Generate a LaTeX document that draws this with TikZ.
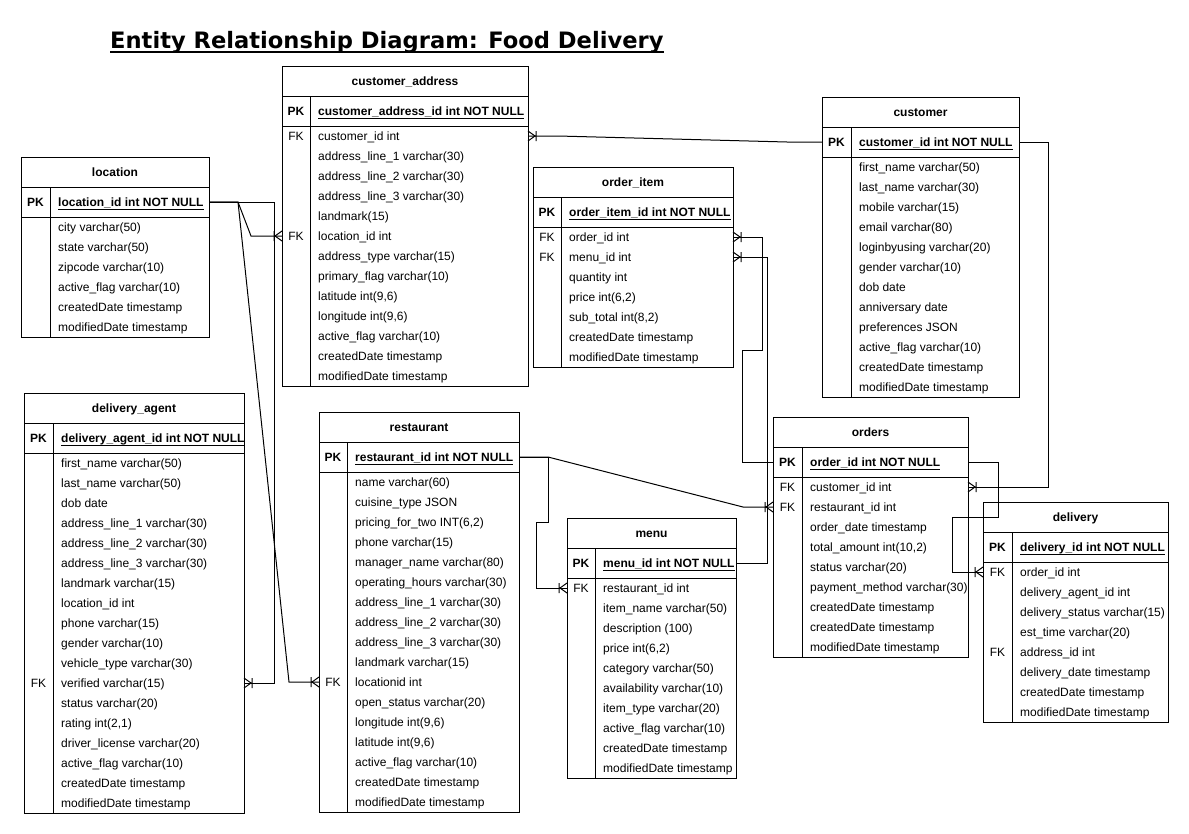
\documentclass[tikz,border=0pt]{standalone}
\usepackage{fontspec}
\setmainfont{Liberation Sans}
\newfontfamily\titlefont{DejaVu Sans}
\usetikzlibrary{positioning}

% crow's foot (mandatory many)
\pgfarrowsdeclare{crowbar}{crowbar}
{\pgfarrowsleftextend{-9pt}\pgfarrowsrightextend{0pt}}
{%
  \pgfsetdash{}{0pt}%
  \pgfpathmoveto{\pgfpoint{0pt}{5pt}}%
  \pgfpathlineto{\pgfpoint{-7pt}{0pt}}%
  \pgfpathlineto{\pgfpoint{0pt}{-5pt}}%
  \pgfpathmoveto{\pgfpoint{-8pt}{5pt}}%
  \pgfpathlineto{\pgfpoint{-8pt}{-5pt}}%
  \pgfusepathqstroke
}

% #1 name, #2 x, #3 y, #4 width, #5 key width, #6 rows, #7 title, #8 pk, #9 fields
\newcommand{\erTable}[9]{%
  \draw [tablebox] (#2,#3) rectangle (#2+#4,#3+60+20*#6);
  \draw [tablebox] (#2,#3+30) -- (#2+#4,#3+30);
  \draw [tablebox] (#2,#3+60) -- (#2+#4,#3+60);
  \draw [tablebox] (#2+#5,#3+30) -- (#2+#5,#3+60+20*#6);
  \node [tabletitle] (#1) at (#2+#4/2,#3+15) {#7};
  \node [rowbox, minimum width=#4pt, minimum height=30pt] (#1-pk) at (#2+#4/2,#3+45) {};
  \node [keytext, font=\bfseries] at (#2+#5/2,#3+45) {PK};
  \node [fieldtext, font=\bfseries] (#1-pkt) at (#2+#5+8,#3+45) {#8};
  \draw [line width=1pt] ([yshift=-3pt]#1-pkt.base west) -- ([yshift=-3pt]#1-pkt.base east);
  \foreach \k/\t [count=\i] in {#9} {
    \node [rowbox, minimum width=#4pt] (#1-\i) at (#2+#4/2,#3+50+20*\i) {};
    \node [keytext] at (#2+#5/2,#3+50+20*\i) {\k};
    \node [fieldtext] at (#2+#5+8,#3+50+20*\i) {\t};
  }
}

\begin{document}
\fontsize{12}{14}\selectfont
\begin{tikzpicture}[x=1pt, y=-1pt]
\tikzset{
  tablebox/.style={draw=black, line width=1pt},
  rowbox/.style={draw=none, minimum height=20pt, inner sep=0pt, outer sep=0pt},
  tabletitle/.style={inner sep=0pt, font=\bfseries, text height=8.5pt, text depth=0pt},
  keytext/.style={inner sep=0pt, text height=8.5pt, text depth=0pt},
  fieldtext/.style={anchor=west, inner sep=0pt, text height=8.5pt, text depth=0pt},
  rel/.style={draw=black, line width=1pt, -crowbar},
}

\fill [white] (0,0) rectangle (1189,833);
\useasboundingbox (0,0) rectangle (1189,833);

\node [anchor=base west, inner sep=0pt, font=\titlefont\bfseries\fontsize{22.6}{26}\selectfont] (title) at (110,48) {Entity Relationship Diagram: Food Delivery};
\draw [line width=2pt] ([yshift=-4pt]title.base west) -- ([yshift=-4pt]title.base east);

\erTable{ca}{282}{66}{246}{28}{13}{customer\_address}{customer\_address\_id int NOT NULL}
  {FK/customer\_id int,/address\_line\_1 varchar(30),/address\_line\_2 varchar(30),/address\_line\_3 varchar(30),/landmark(15),FK/location\_id int,/address\_type varchar(15),/primary\_flag varchar(10),/{latitude int(9,6)},/{longitude int(9,6)},/active\_flag varchar(10),/createdDate timestamp,/modifiedDate timestamp}

\erTable{loc}{21}{157}{188}{29}{6}{location}{location\_id int NOT NULL}
  {/city varchar(50),/state varchar(50),/zipcode varchar(10),/active\_flag varchar(10),/createdDate timestamp,/modifiedDate timestamp}

\erTable{cust}{822}{97}{197}{29}{12}{customer}{customer\_id int NOT NULL}
  {/first\_name varchar(50),/last\_name varchar(30),/mobile varchar(15),/email varchar(80),/loginbyusing varchar(20),/gender varchar(10),/dob date,/anniversary date,/preferences JSON,/active\_flag varchar(10),/createdDate timestamp,/modifiedDate timestamp}

\erTable{oi}{533}{167}{200}{28}{7}{order\_item}{order\_item\_id int NOT NULL}
  {FK/order\_id int,FK/menu\_id int,/quantity int,/{price int(6,2)},/{sub\_total int(8,2)},/createdDate timestamp,/modifiedDate timestamp}

\erTable{da}{24}{393}{220}{29}{18}{delivery\_agent}{delivery\_agent\_id int NOT NULL}
  {/first\_name varchar(50),/last\_name varchar(50),/dob date,/address\_line\_1 varchar(30),/address\_line\_2 varchar(30),/address\_line\_3 varchar(30),/landmark varchar(15),/location\_id int,/phone varchar(15),/gender varchar(10),/vehicle\_type varchar(30),FK/verified varchar(15),/status varchar(20),/{rating int(2,1)},/driver\_license varchar(20),/active\_flag varchar(10),/createdDate timestamp,/modifiedDate timestamp}

\erTable{rest}{319}{412}{200}{28}{17}{restaurant}{restaurant\_id int NOT NULL}
  {/name varchar(60),/cuisine\_type JSON,/{pricing\_for\_two INT(6,2)},/phone varchar(15),/manager\_name varchar(80),/operating\_hours varchar(30),/address\_line\_1 varchar(30),/address\_line\_2 varchar(30),/address\_line\_3 varchar(30),/landmark varchar(15),FK/locationid int,/open\_status varchar(20),/{longitude int(9,6)},/{latitude int(9,6)},/active\_flag varchar(10),/createdDate timestamp,/modifiedDate timestamp}

\erTable{menu}{567}{518}{169}{28}{10}{menu}{menu\_id int NOT NULL}
  {FK/restaurant\_id int,/item\_name varchar(50),/description (100),/{price int(6,2)},/category varchar(50),/availability varchar(10),/item\_type varchar(20),/active\_flag varchar(10),/createdDate timestamp,/modifiedDate timestamp}

\erTable{ord}{773}{417}{195}{29}{9}{orders}{order\_id int NOT NULL}
  {FK/customer\_id int,FK/restaurant\_id int,/order\_date timestamp,/{total\_amount int(10,2)},/status varchar(20),/payment\_method varchar(30),/createdDate timestamp,/createdDate timestamp,/modifiedDate timestamp}

\erTable{del}{983}{502}{185}{29}{8}{delivery}{delivery\_id int NOT NULL}
  {FK/order\_id int,/delivery\_agent\_id int,/delivery\_status varchar(15),/est\_time varchar(20),FK/address\_id int,/delivery\_date timestamp,/createdDate timestamp,/modifiedDate timestamp}

% relationships
\draw [rel] (loc-pk.east) -- ++(29,0) -- ([xshift=-31pt]ca-6.west) -- (ca-6.west);
\draw [rel] (loc-pk.east) -- ++(29,0) -- ([xshift=-30pt]rest-11.west) -- (rest-11.west);
\draw [rel] (loc-pk.east) -- ++(65,0) |- (da-12.east);
\draw [rel] (cust-pk.west) -- ++(-35,0) -- ([xshift=30pt]ca-1.east) -- (ca-1.east);
\draw [rel] (cust-pk.east) -- ++(29,0) |- (ord-1.east);
\draw [rel] (rest-pk.east) -- ++(29,0) -- ([xshift=-30pt]ord-2.west) -- (ord-2.west);
\draw [rel] (rest-pk.east) -- ++(29,0) -- ++(0,65) -- ++(-12,0) |- (menu-1.west);
\draw [rel] (menu-pk.east) -- ++(31,0) |- (oi-2.east);
\draw [rel] (ord-pk.west) -- ++(-31,0) -- ++(0,-112) -- ++(20,0) |- (oi-1.east);
\draw [rel] (ord-pk.east) -- ++(30,0) -- ++(0,55) -- ++(-46,0) |- (del-1.west);

\end{tikzpicture}
\end{document}
